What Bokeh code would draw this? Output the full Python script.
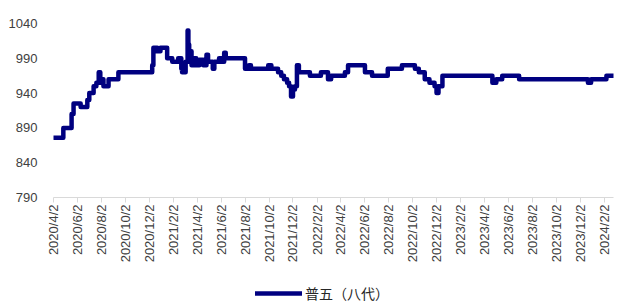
import pandas as pd
from bokeh.plotting import figure
from bokeh.layouts import column
from bokeh.models import (Range1d, FixedTicker, CustomJSTickFormatter, Legend, LegendItem)
from bokeh.embed import file_html
from bokeh.resources import INLINE

SERIES_NAME = "普五（八代）"

DATES = [
    "2020-04-02", "2020-04-27", "2020-05-18", "2020-05-23", "2020-06-10", "2020-06-27",
    "2020-07-02", "2020-07-13", "2020-07-20", "2020-07-26", "2020-07-30", "2020-08-02",
    "2020-08-04", "2020-08-07", "2020-08-20", "2020-09-14", "2020-12-09", "2020-12-12",
    "2020-12-22", "2020-12-30", "2021-01-16", "2021-01-29", "2021-02-13", "2021-02-21",
    "2021-02-23", "2021-03-04", "2021-03-09", "2021-03-11", "2021-03-13", "2021-03-16",
    "2021-03-19", "2021-03-26", "2021-03-31", "2021-04-08", "2021-04-18", "2021-04-26",
    "2021-04-30", "2021-05-12", "2021-05-16", "2021-05-28", "2021-06-05", "2021-06-10",
    "2021-06-14", "2021-08-02", "2021-08-12", "2021-08-17", "2021-09-30", "2021-10-08",
    "2021-10-25", "2021-11-02", "2021-11-09", "2021-11-17", "2021-11-22", "2021-11-27",
    "2021-12-02", "2021-12-07", "2021-12-12", "2021-12-17", "2022-01-14", "2022-02-11",
    "2022-03-01", "2022-03-09", "2022-04-13", "2022-04-21", "2022-06-03", "2022-06-21",
    "2022-07-31", "2022-09-05", "2022-10-08", "2022-10-18", "2022-11-02", "2022-11-14",
    "2022-11-27", "2022-12-02", "2022-12-07", "2022-12-17", "2023-04-23", "2023-05-03",
    "2023-05-18", "2023-06-30", "2023-12-22", "2023-12-30", "2024-02-07", "2024-02-25",
]

PRICES = [
    876, 890, 910, 925, 920, 930,
    940, 950, 955, 970, 960, 955,
    960, 950, 960, 970, 980, 1005,
    1000, 1005, 990, 985, 990, 975,
    970, 985, 1030, 1010, 990, 1000,
    980, 990, 980, 988, 980, 995,
    985, 975, 985, 990, 985, 998,
    990, 975, 980, 975, 980, 975,
    970, 965, 960, 955, 950, 935,
    945, 950, 980, 970, 965, 970,
    960, 965, 970, 980, 970, 965,
    975, 980, 975, 970, 960, 955,
    950, 940, 950, 965, 955, 960,
    965, 960, 955, 960, 965, 965,
]

TICK_LABELS = [
    "2020/4/2", "2020/6/2", "2020/8/2", "2020/10/2", "2020/12/2", "2021/2/2",
    "2021/4/2", "2021/6/2", "2021/8/2", "2021/10/2", "2021/12/2", "2022/2/2",
    "2022/4/2", "2022/6/2", "2022/8/2", "2022/10/2", "2022/12/2", "2023/2/2",
    "2023/4/2", "2023/6/2", "2023/8/2", "2023/10/2", "2023/12/2", "2024/2/2",
]

Y_TICKS = [790, 840, 890, 940, 990, 1040]

LINE_COLOR = "#000080"
LINE_WIDTH = 4.5

x = pd.to_datetime(DATES)
tick_ms = [pd.Timestamp(t.replace("/", "-")).value / 1e6 for t in TICK_LABELS]

p = figure(width=619, height=270, x_axis_type="datetime",
           output_backend="svg", toolbar_location=None,
           min_border_left=53, min_border_right=6, min_border_top=23,
           min_border_bottom=73)
p.x_range = Range1d(x[0], x[-1])
p.y_range = Range1d(790, 1040)
p.outline_line_color = None
p.xgrid.grid_line_color = None
p.ygrid.grid_line_color = None
p.background_fill_color = "white"

r = p.step(x, PRICES, mode="after", line_width=LINE_WIDTH, line_color=LINE_COLOR,
           line_join="round", line_cap="round")

# x axis
xa = p.xaxis[0]
xa.ticker = FixedTicker(ticks=tick_ms)
xa.formatter = CustomJSTickFormatter(code="""
const d = new Date(tick);
return d.getUTCFullYear() + '/' + (d.getUTCMonth() + 1) + '/' + d.getUTCDate();
""")
xa.major_label_orientation = 3.14159265 / 2
xa.major_label_text_font = "Liberation Sans"
xa.major_label_text_font_size = "13px"
xa.major_label_text_color = "#404040"
xa.axis_line_color = "#d9d9d9"
xa.major_tick_line_color = "#d9d9d9"
xa.major_tick_out = 5
xa.major_tick_in = 0
xa.minor_tick_line_color = None
xa.major_label_standoff = 2

# y axis
ya = p.yaxis[0]
ya.ticker = FixedTicker(ticks=Y_TICKS)
ya.major_label_text_font = "Liberation Sans"
ya.major_label_text_font_size = "13px"
ya.major_label_text_color = "#404040"
ya.axis_line_color = None
ya.major_tick_line_color = None
ya.minor_tick_line_color = None
ya.major_label_standoff = 10

# legend strip below the chart (its sample line lies outside the visible range)
lg = figure(width=619, height=34, output_backend="svg", toolbar_location=None,
            x_axis_location=None, y_axis_location=None,
            min_border_left=0, min_border_right=0, min_border_top=0, min_border_bottom=0,
            x_range=Range1d(0, 1), y_range=Range1d(0, 1))
lg.outline_line_color = None
lg.xgrid.grid_line_color = None
lg.ygrid.grid_line_color = None
lr = lg.line(x=[5, 6], y=[5, 6], line_width=LINE_WIDTH, line_color=LINE_COLOR, line_cap="round")

legend = Legend(items=[LegendItem(label=SERIES_NAME, renderers=[lr])],
                location=(202, 1), orientation="horizontal",
                glyph_width=47, glyph_height=14, label_height=14,
                label_standoff=3, padding=0, margin=0, spacing=0,
                label_text_font="Noto Sans CJK SC", label_text_font_size="14px",
                label_text_color="#262626",
                background_fill_alpha=0, border_line_alpha=0)
lg.add_layout(legend)

layout = column(p, lg, spacing=0)
open("out.html", "w").write(file_html(layout, INLINE))
